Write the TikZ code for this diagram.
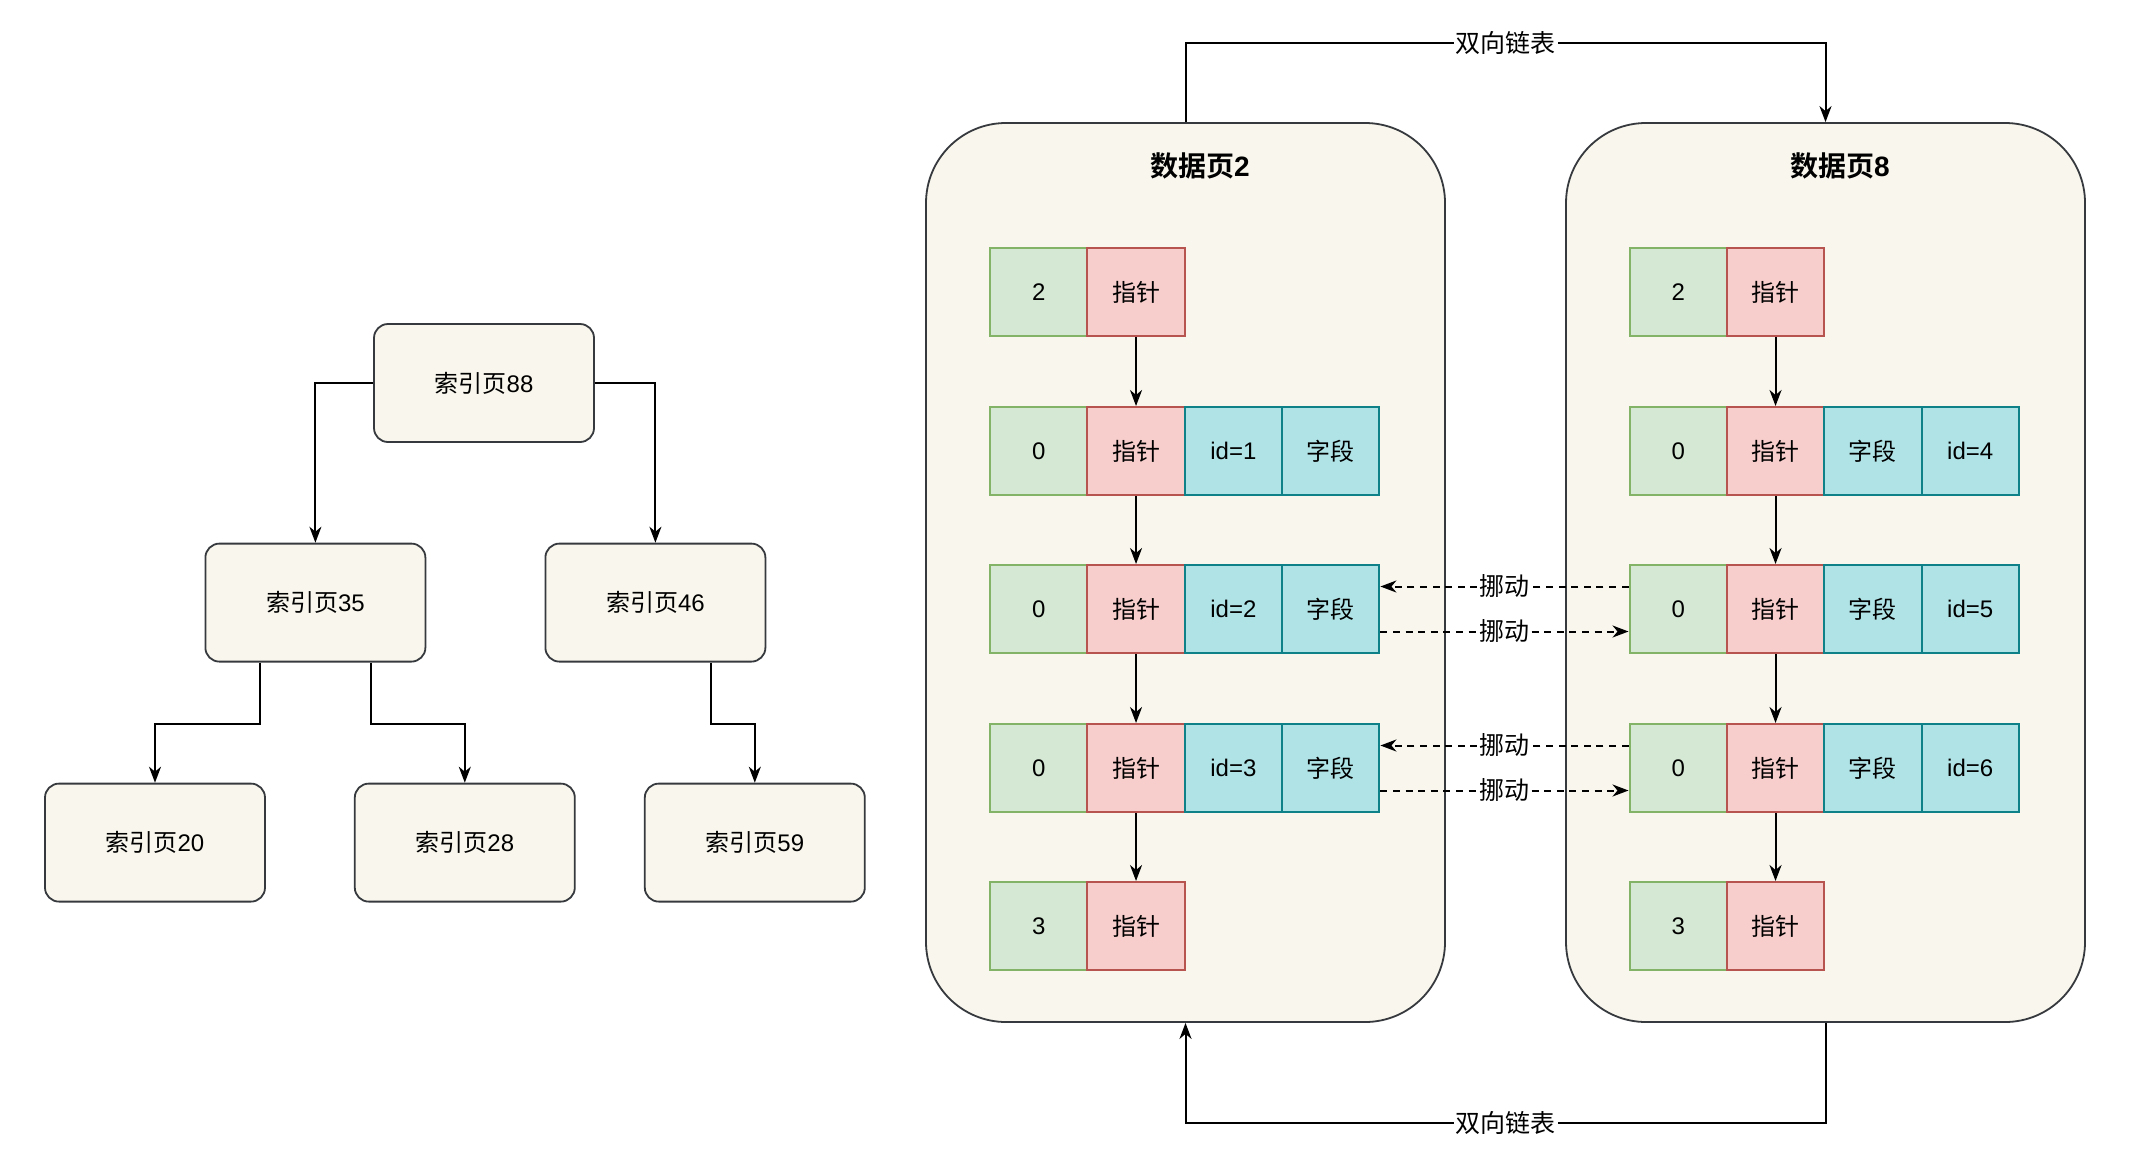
\documentclass[tikz,border=0pt]{standalone}
\usepackage{fontspec}
\setmainfont{Liberation Sans}
\newfontfamily\cjk{Noto Sans CJK SC}[BoldFont={Noto Sans CJK SC Bold}]
\usetikzlibrary{arrows.meta,calc}
\newcommand{\zh}[1]{{\cjk #1}}
\definecolor{boxfill}{HTML}{F9F7ED}
\definecolor{boxdraw}{HTML}{36393D}
\definecolor{gfill}{HTML}{D5E8D4}\definecolor{gdraw}{HTML}{82B366}
\definecolor{rfill}{HTML}{F8CECC}\definecolor{rdraw}{HTML}{B85450}
\definecolor{cfill}{HTML}{B0E3E6}\definecolor{cdraw}{HTML}{0E8088}
\tikzset{
  treebox/.style={draw=boxdraw, fill=boxfill, rounded corners=7pt, minimum width=110pt, minimum height=59pt, line width=0.9pt, inner sep=0pt, font=\fontsize{12}{14}\selectfont},
  pagebox/.style={draw=boxdraw, fill=boxfill, rounded corners=40pt, minimum width=259.5pt, minimum height=449.5pt, line width=0.9pt, inner sep=0pt},
  cellbase/.style={anchor=north west, minimum width=48.67pt, minimum height=44pt, inner sep=0pt, line width=1pt, font=\fontsize{12}{14}\selectfont},
  gcell/.style={cellbase, draw=gdraw, fill=gfill},
  rcell/.style={cellbase, draw=rdraw, fill=rfill},
  ccell/.style={cellbase, draw=cdraw, fill=cfill},
  arr/.style={draw=black, line width=1pt, -{Stealth[length=8pt,width=6pt,inset=2.5pt]}},
  darr/.style={arr, dash pattern=on 3.5pt off 2.8pt},
  lbl/.style={fill=white, inner sep=1pt, font=\fontsize{12.5}{14}\selectfont},
  title/.style={font=\fontsize{14}{16}\selectfont\bfseries},
}
\newcommand\fourrow[7]{%
  \node[gcell] (#1a) at (#2,#3) {#4};
  \node[rcell] (#1b) at ({#2+97.35},#3) {#5};
  \node[ccell] (#1c) at ({#2+194.7},#3) {#6};
  \node[ccell] (#1d) at ({#2+292.05},#3) {#7};}
\newcommand\tworow[5]{%
  \node[gcell] (#1a) at (#2,#3) {#4};
  \node[rcell] (#1b) at ({#2+97.35},#3) {#5};}
\begin{document}
\begin{tikzpicture}[x=0.5pt,y=-0.5pt]
\fill[white] (0,0) rectangle (2150,1162);
\useasboundingbox (0,0) rectangle (2150,1162);

% tree
\node[treebox] (n88) at (484,383) {\zh{索引页}88};
\node[treebox] (n35) at (315.4,602.6) {\zh{索引页}35};
\node[treebox] (n46) at (655.4,602.6) {\zh{索引页}46};
\node[treebox] (n20) at (155,842.6) {\zh{索引页}20};
\node[treebox] (n28) at (464.8,842.6) {\zh{索引页}28};
\node[treebox] (n59) at (754.8,842.6) {\zh{索引页}59};
\draw[arr] (n88.west) -| (n35.north);
\draw[arr] (n88.east) -| (n46.north);
\draw[arr] ($(n35.south west)!0.25!(n35.south east)$) -- ++(0,61) -| (n20.north);
\draw[arr] ($(n35.south west)!0.75!(n35.south east)$) -- ++(0,61) -| (n28.north);
\draw[arr] ($(n46.south west)!0.75!(n46.south east)$) -- ++(0,61) -| (n59.north);

% pages
\node[pagebox] (P2) at (1185.5,572.5) {};
\node[pagebox] (P8) at (1825.5,572.5) {};
\node[title] (t2) at (1200,166) {\zh{数据页}2};
\node[title] (t8) at (1840,166) {\zh{数据页}8};

% page 2 cells
\tworow{p2r1}{989}{247}{2}{\zh{指针}}
\fourrow{p2r2}{989}{406}{0}{\zh{指针}}{id=1}{\zh{字段}}
\fourrow{p2r3}{989}{564}{0}{\zh{指针}}{id=2}{\zh{字段}}
\fourrow{p2r4}{989}{723}{0}{\zh{指针}}{id=3}{\zh{字段}}
\tworow{p2r5}{989}{881}{3}{\zh{指针}}
% page 8 cells
\tworow{p8r1}{1628.5}{247}{2}{\zh{指针}}
\fourrow{p8r2}{1628.5}{406}{0}{\zh{指针}}{\zh{字段}}{id=4}
\fourrow{p8r3}{1628.5}{564}{0}{\zh{指针}}{\zh{字段}}{id=5}
\fourrow{p8r4}{1628.5}{723}{0}{\zh{指针}}{\zh{字段}}{id=6}
\tworow{p8r5}{1628.5}{881}{3}{\zh{指针}}

% pointer arrows
\draw[arr] (p2r1b.south) -- (p2r2b.north);
\draw[arr] (p2r2b.south) -- (p2r3b.north);
\draw[arr] (p2r3b.south) -- (p2r4b.north);
\draw[arr] (p2r4b.south) -- (p2r5b.north);
\draw[arr] (p8r1b.south) -- (p8r2b.north);
\draw[arr] (p8r2b.south) -- (p8r3b.north);
\draw[arr] (p8r3b.south) -- (p8r4b.north);
\draw[arr] (p8r4b.south) -- (p8r5b.north);

% move arrows
\draw[darr] ($(p8r3a.north west)!0.25!(p8r3a.south west)$) -- node[lbl]{\zh{挪动}} ($(p2r3d.north east)!0.25!(p2r3d.south east)$);
\draw[darr] ($(p2r3d.north east)!0.75!(p2r3d.south east)$) -- node[lbl]{\zh{挪动}} ($(p8r3a.north west)!0.75!(p8r3a.south west)$);
\draw[darr] ($(p8r4a.north west)!0.25!(p8r4a.south west)$) -- node[lbl]{\zh{挪动}} ($(p2r4d.north east)!0.25!(p2r4d.south east)$);
\draw[darr] ($(p2r4d.north east)!0.75!(p2r4d.south east)$) -- node[lbl]{\zh{挪动}} ($(p8r4a.north west)!0.75!(p8r4a.south west)$);

% linked list
\draw[arr] (P2.north) -- ++(0,-79) -| node[pos=0.25,lbl]{\zh{双向链表}} (P8.north);
\draw[arr] (P8.south) -- ++(0,100) -| node[pos=0.25,lbl]{\zh{双向链表}} (P2.south);
\end{tikzpicture}
\end{document}
